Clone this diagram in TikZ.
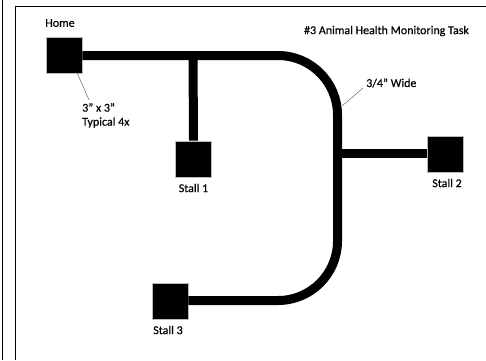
\documentclass[tikz,border=0pt]{standalone}
\usepackage{fontspec}
\setmainfont{Carlito}
\newfontfamily\lblfont{Carlito}[FakeBold=0.5]
\begin{document}
\begin{tikzpicture}[x=1pt,y=-1pt,
  stallbox/.style={draw=gray!55,line width=0.6pt,fill=black,minimum size=36pt,inner sep=0pt},
  track/.style={line width=9pt,black},
  leader/.style={draw=gray!80!black,line width=0.5pt},
  lbl/.style={font=\lblfont\fontsize{12}{14}\selectfont,inner sep=0pt},
  frame/.style={line width=0.8pt,black}]
\useasboundingbox (0,0) rectangle (486,360);
% page frame
\draw[frame] (2,0) -- (2,360);
\draw[frame] (15,360) -- (15,6) -- (486,6);

% stations (3" x 3" squares)
\node[stallbox] (home)   at (64,55)    {};
\node[stallbox] (stall1) at (193.5,159) {};
\node[stallbox] (stall2) at (445.5,154) {};
\node[stallbox] (stall3) at (170,301)   {};

% junction points on the main track
\coordinate (j1)    at (193,55.5);
\coordinate (cTop)  at (337.5,55.5);
\coordinate (j2)    at (337.5,153.5);
\coordinate (cBot)  at (337.5,300.5);

% main track with rounded bends
\draw[track,rounded corners=59.5pt] (home.east |- j1) -- (cTop) -- (cBot) -- (stall3.east |- cBot);
% branches
\draw[track] (j1) -- (stall1.north);
\draw[track] (j2) -- (stall2.west |- j2);

% labels
\node[lbl] (homelbl) at (60,23) {Home};
\node[lbl] at (193.5,188) {Stall 1};
\node[lbl] at (447,183) {Stall 2};
\node[lbl] at (168,330) {Stall 3};
\node[lbl] (title) at (386.5,31) {\#3 Animal Health Monitoring Task};

% size callout
\node[lbl,align=left,anchor=north west] (sizelbl) at (82,103) {3” x 3”\\[0pt]Typical 4x};
\coordinate (lead1) at (89,100);
\draw[leader] ([xshift=-5pt]home.south east) -- (lead1);

% width callout
\node[lbl,anchor=west] (widelbl) at (366,83) {3/4” Wide};
\coordinate (lead2a) at (342,106);
\coordinate (lead2b) at (363,88);
\draw[leader] (lead2a) -- (lead2b);
\end{tikzpicture}
\end{document}
